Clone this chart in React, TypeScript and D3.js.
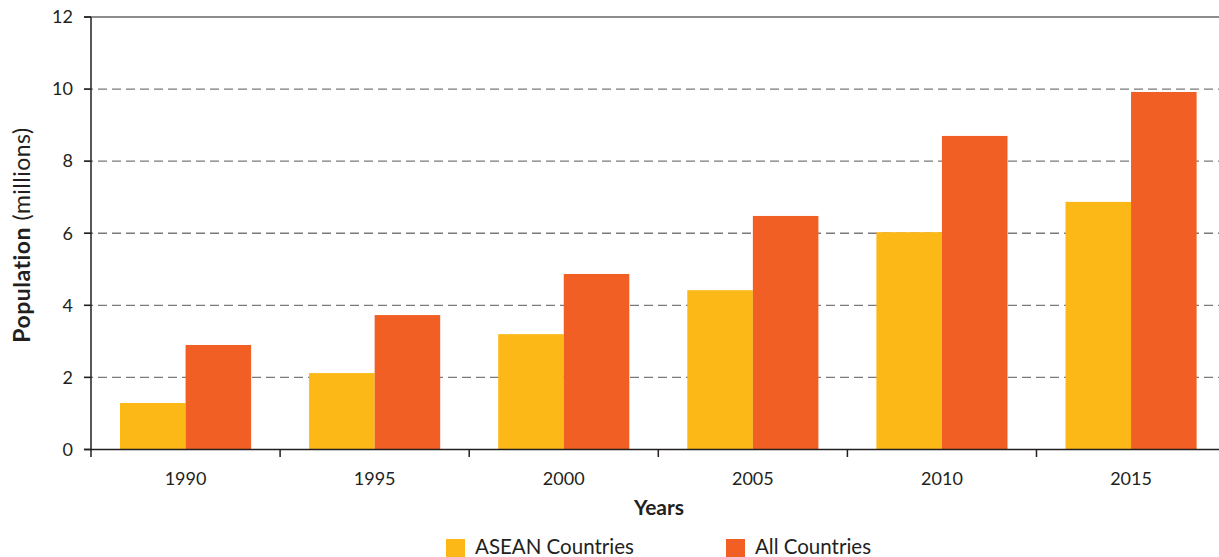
import React from "react";
import * as d3 from "d3";

const years = ["1990", "1995", "2000", "2005", "2010", "2015"];
const aseanValues = [1.29, 2.12, 3.2, 4.42, 6.03, 6.87];
const allValues = [2.9, 3.73, 4.87, 6.48, 8.7, 9.92];
const yTicks = [0, 2, 4, 6, 8, 10, 12];
const seriesNames = ["ASEAN Countries", "All Countries"];
const seriesColors = ["#FBB816", "#F15F24"];

const W = 1219;
const H = 557;
const FONT = "Lato, 'Open Sans', sans-serif";
const TEXT = "#231f20";

export default function App() {
  const x0 = 91;
  const band = 189.1;
  const x = d3.scaleBand<string>().domain(years).range([x0, x0 + band * years.length]).paddingInner(0).paddingOuter(0);
  const y = d3.scaleLinear().domain([0, 12]).range([449.5, 17]);
  const groupPad = 29;
  const inner = d3.scaleBand<number>().domain([0, 1]).range([0, x.bandwidth() - 2 * groupPad]).padding(0);
  const series = [aseanValues, allValues];

  return (
    <div style={{ position: "fixed", left: 0, top: 0 }}>
      <svg width={W} height={H} style={{ display: "block", fontFamily: FONT }}>
        <rect width={W} height={H} fill="#fff" />
        {/* gridlines */}
        {yTicks.filter((t) => t > 0).map((t) => (
          <line
            key={t}
            x1={84}
            x2={W}
            y1={y(t)}
            y2={y(t)}
            stroke={t === 12 ? "#666" : "#7a7a7a"}
            strokeWidth={1.3}
            strokeDasharray={t === 12 ? undefined : "9,5"}
          />
        ))}
        {/* bars */}
        {years.map((yr, i) =>
          series.map((vals, s) => (
            <rect
              key={yr + s}
              x={(x(yr) as number) + groupPad + (inner(s) as number)}
              y={y(vals[i])}
              width={inner.bandwidth()}
              height={y(0) - y(vals[i])}
              fill={seriesColors[s]}
            />
          ))
        )}
        {/* axes */}
        <line x1={x0} x2={x0} y1={y(12)} y2={457} stroke={TEXT} strokeWidth={1.5} />
        <line x1={84} x2={W} y1={y(0)} y2={y(0)} stroke={TEXT} strokeWidth={1.5} />
        <line x1={84} x2={x0} y1={y(12)} y2={y(12)} stroke="#666" strokeWidth={1.5} />
        {years.map((yr) => (
          <line key={"t" + yr} x1={(x(yr) as number) + band} x2={(x(yr) as number) + band} y1={y(0)} y2={457} stroke={TEXT} strokeWidth={1.5} />
        ))}
        {yTicks.map((t) => (
          <g key={"yl" + t}>
            <line x1={84} x2={x0} y1={y(t)} y2={y(t)} stroke={TEXT} strokeWidth={1.5} />
            <text x={73} y={y(t)} dy="0.35em" textAnchor="end" fontSize={18} fill={TEXT}>
              {t}
            </text>
          </g>
        ))}
        {years.map((yr) => (
          <text key={"xl" + yr} x={(x(yr) as number) + band / 2} y={485} textAnchor="middle" fontSize={18} fill={TEXT}>
            {yr}
          </text>
        ))}
        <text x={659} y={515} textAnchor="middle" fontSize={21} fontWeight="bold" fill={TEXT}>
          Years
        </text>
        <text transform={`translate(30,235) rotate(-90)`} textAnchor="middle" fontSize={23} letterSpacing={0.5} fill={TEXT}>
          <tspan fontWeight="bold">Population</tspan>
          <tspan> (millions)</tspan>
        </text>
        {/* legend */}
        {seriesNames.map((n, i) => {
          const lx = [446, 726][i];
          return (
            <g key={n}>
              <rect x={lx} y={539} width={19} height={19} fill={seriesColors[i]} />
              <text x={lx + 29} y={554} fontSize={20.5} fill={TEXT}>
                {n}
              </text>
            </g>
          );
        })}
      </svg>
    </div>
  );
}
